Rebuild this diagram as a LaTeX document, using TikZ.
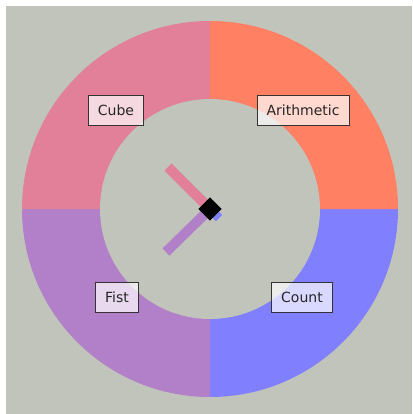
\documentclass[tikz,border=0pt]{standalone}
\usepackage{fontspec}
\setmainfont{DejaVu Sans}
\definecolor{bgclr}{RGB}{192,196,186}
\definecolor{cubeclr}{RGB}{225,128,152}
\definecolor{arithclr}{RGB}{255,128,98}
\definecolor{fistclr}{RGB}{178,128,200}
\definecolor{countclr}{RGB}{128,128,255}

\begin{document}
\begin{tikzpicture}[
    x=1pt, y=-1pt,
    tag/.style={draw=black!80, line width=0.9pt, fill=white, fill opacity=0.7, text opacity=1,
        text=black!85, inner xsep=9.5pt, inner ysep=0pt, minimum height=30pt,
        font=\fontsize{14}{16}\selectfont},
    hand/.style={line width=10pt}
]
    \useasboundingbox (0,0) rectangle (412,414);
    \fill[bgclr] (6,6) rectangle (412,414);
    \coordinate (hub) at (210,209);

    % ring of four quarters
    \foreach \clr [count=\i] in {countclr, fistclr, cubeclr, arithclr}
        \fill[\clr] (hub) -- ++({(\i-1)*90}:188) arc[start angle={(\i-1)*90}, delta angle=90, radius=188] -- cycle;
    \fill[bgclr] (hub) circle[radius=110];

    \node[tag] (cube) at (116,110) {Cube};
    \node[tag] (arith) at (303,110) {Arithmetic};
    \node[tag] (fist) at (117,297) {Fist};
    \node[tag] (count) at (302,297) {Count};

    % hands
    \coordinate (cubetip) at (168,167);
    \coordinate (fisttip) at (166,252);
    \coordinate (counttip) at (219,218);
    \draw[hand, cubeclr] (cubetip) -- (hub);
    \draw[hand, fistclr] (fisttip) -- (hub);
    \draw[hand, line width=9pt, countclr] (hub) -- (counttip);
    \node[fill=black, rotate=45, minimum size=16.3pt, inner sep=0pt] (pivot) at (hub) {};
\end{tikzpicture}
\end{document}
